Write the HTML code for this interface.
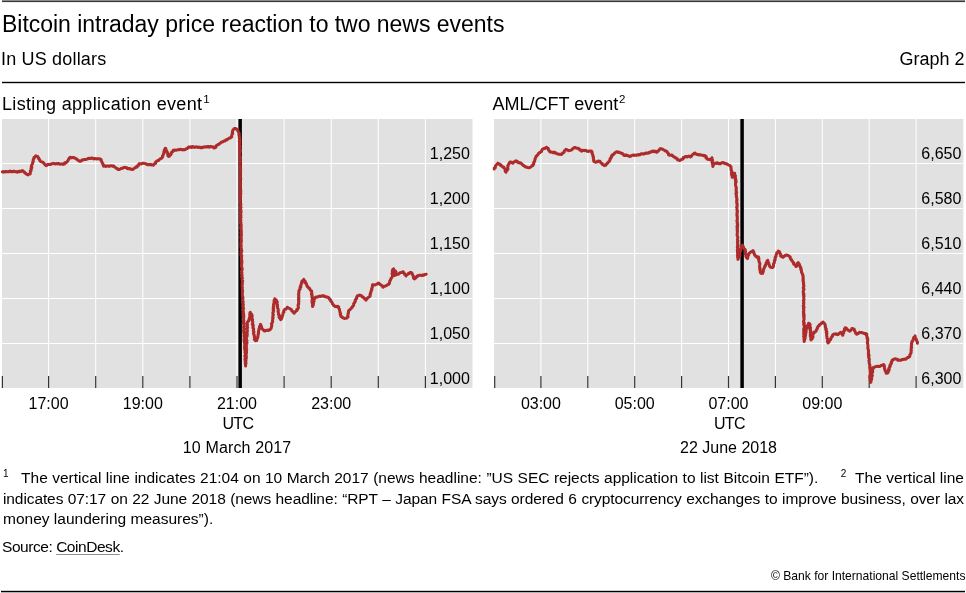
<!DOCTYPE html>
<html><head><meta charset="utf-8"><style>
html,body{margin:0;padding:0;background:#fff;}
body{width:966px;height:593px;position:relative;overflow:hidden;font-family:"Liberation Sans",Arial,sans-serif;color:#000;}
svg{position:absolute;left:0;top:0;will-change:transform;}
.fn,.src,.cp{will-change:transform;}
svg text{font-family:"Liberation Sans",Arial,sans-serif;fill:#000;}
.fn{position:absolute;left:2.5px;width:961px;font-size:15.5px;line-height:20.7px;white-space:nowrap;text-align:justify;text-align-last:justify;}
.fn sup{font-size:10px;vertical-align:0;position:relative;top:-6px;}
.src{position:absolute;left:2px;font-size:15.5px;line-height:20px;white-space:nowrap;}
.src u{text-decoration-color:#8a958a;text-underline-offset:2px;}
.cp{position:absolute;right:1px;font-size:12.1px;line-height:14px;white-space:nowrap;}
</style></head><body>
<svg width="966" height="593" viewBox="0 0 966 593">
<rect x="2" y="0" width="963" height="1" fill="#8a8a8a"/><rect x="2" y="1" width="963" height="1.1" fill="#3a3a3a"/>
<text x="2.00" y="32.30" font-size="23" textLength="502.4" lengthAdjust="spacing">Bitcoin intraday price reaction to two news events</text>
<text x="1.00" y="64.80" font-size="18" textLength="105.2" lengthAdjust="spacing">In US dollars</text>
<text x="964.50" y="64.80" font-size="18" text-anchor="end">Graph 2</text>
<text x="2.00" y="109.80" font-size="18" textLength="200" lengthAdjust="spacing">Listing application event</text>
<text x="492.50" y="109.80" font-size="18">AML/CFT event</text>
<text x="203.20" y="102.50" font-size="11.5">1</text>
<text x="619.00" y="102.50" font-size="11.5">2</text>
<rect x="2" y="81.8" width="963" height="1.4" fill="#000"/>
<rect x="2.0" y="119" width="470.5" height="269" fill="#e1e1e1"/>
<line x1="48.60" y1="119" x2="48.60" y2="388" stroke="#fff" stroke-width="1.05"/>
<line x1="95.70" y1="119" x2="95.70" y2="388" stroke="#fff" stroke-width="1.05"/>
<line x1="142.80" y1="119" x2="142.80" y2="388" stroke="#fff" stroke-width="1.05"/>
<line x1="189.90" y1="119" x2="189.90" y2="388" stroke="#fff" stroke-width="1.05"/>
<line x1="237.00" y1="119" x2="237.00" y2="388" stroke="#fff" stroke-width="1.05"/>
<line x1="284.10" y1="119" x2="284.10" y2="388" stroke="#fff" stroke-width="1.05"/>
<line x1="331.20" y1="119" x2="331.20" y2="388" stroke="#fff" stroke-width="1.05"/>
<line x1="378.30" y1="119" x2="378.30" y2="388" stroke="#fff" stroke-width="1.05"/>
<line x1="425.40" y1="119" x2="425.40" y2="388" stroke="#fff" stroke-width="1.05"/>
<line x1="1.5" y1="163.5" x2="472.5" y2="163.5" stroke="#fff" stroke-width="1.05"/>
<line x1="1.5" y1="208.5" x2="472.5" y2="208.5" stroke="#fff" stroke-width="1.05"/>
<line x1="1.5" y1="253.5" x2="472.5" y2="253.5" stroke="#fff" stroke-width="1.05"/>
<line x1="1.5" y1="298.5" x2="472.5" y2="298.5" stroke="#fff" stroke-width="1.05"/>
<line x1="1.5" y1="343.5" x2="472.5" y2="343.5" stroke="#fff" stroke-width="1.05"/>
<line x1="2.40" y1="376" x2="2.40" y2="388" stroke="#333" stroke-width="1.2"/>
<line x1="48.60" y1="376" x2="48.60" y2="388" stroke="#333" stroke-width="1.2"/>
<line x1="95.70" y1="376" x2="95.70" y2="388" stroke="#333" stroke-width="1.2"/>
<line x1="142.80" y1="376" x2="142.80" y2="388" stroke="#333" stroke-width="1.2"/>
<line x1="189.90" y1="376" x2="189.90" y2="388" stroke="#333" stroke-width="1.2"/>
<line x1="237.00" y1="376" x2="237.00" y2="388" stroke="#333" stroke-width="1.2"/>
<line x1="284.10" y1="376" x2="284.10" y2="388" stroke="#333" stroke-width="1.2"/>
<line x1="331.20" y1="376" x2="331.20" y2="388" stroke="#333" stroke-width="1.2"/>
<line x1="378.30" y1="376" x2="378.30" y2="388" stroke="#333" stroke-width="1.2"/>
<line x1="425.40" y1="376" x2="425.40" y2="388" stroke="#333" stroke-width="1.2"/>
<text x="469.90" y="158.80" font-size="16" text-anchor="end">1,250</text>
<text x="469.90" y="203.80" font-size="16" text-anchor="end">1,200</text>
<text x="469.90" y="248.80" font-size="16" text-anchor="end">1,150</text>
<text x="469.90" y="293.80" font-size="16" text-anchor="end">1,100</text>
<text x="469.90" y="338.80" font-size="16" text-anchor="end">1,050</text>
<text x="469.90" y="383.80" font-size="16" text-anchor="end">1,000</text>
<line x1="240.15" y1="119" x2="240.15" y2="388" stroke="#000" stroke-width="3.5"/>
<polyline points="2.5,171.9 3.2,171.5 4.0,172.1 4.7,172.0 5.4,171.5 6.1,171.7 6.8,171.6 7.6,171.8 8.3,171.6 9.0,171.8 9.7,171.2 10.4,171.1 11.2,171.8 11.9,171.5 12.6,171.8 13.3,171.5 14.0,171.1 14.7,171.6 15.4,171.8 16.2,171.5 16.8,172.1 17.5,172.2 18.3,171.4 19.0,171.9 19.5,171.2 20.4,171.4 21.2,171.5 21.7,170.8 22.4,170.6 23.2,171.0 23.7,171.8 24.5,172.2 24.8,173.1 25.7,173.3 26.3,174.0 27.0,174.4 27.7,174.9 28.5,174.4 29.3,174.1 30.2,174.0 30.1,173.2 30.4,172.6 30.4,171.8 30.3,171.1 31.2,170.5 31.0,169.8 31.2,169.1 31.0,168.3 31.8,167.7 31.8,167.0 31.3,166.2 31.6,165.5 31.9,164.8 32.3,164.1 32.5,163.4 32.9,162.7 32.7,161.8 33.2,161.2 33.3,160.4 33.2,159.6 33.7,158.9 34.1,158.2 34.0,157.4 34.9,157.1 35.3,156.3 36.0,155.7 36.6,156.3 37.7,156.5 38.1,157.4 38.7,157.9 38.6,158.8 39.2,159.2 39.8,159.7 39.8,160.5 40.2,161.1 40.9,161.6 41.6,161.9 42.4,162.0 43.1,162.4 43.6,162.9 44.1,163.5 44.4,164.2 45.0,164.6 45.6,165.1 46.0,165.7 46.7,165.4 47.3,164.7 48.0,164.4 48.9,164.4 49.8,164.4 50.6,164.5 51.4,164.0 52.2,163.7 53.0,163.6 53.7,163.3 54.4,163.6 55.1,164.0 55.9,163.8 56.6,163.6 57.3,163.9 58.0,163.6 58.7,163.5 59.4,163.8 60.0,164.3 60.8,164.1 61.5,164.1 62.2,164.1 62.9,164.4 63.6,164.0 64.5,164.0 64.7,162.8 65.7,163.0 66.3,162.4 66.9,162.0 67.4,161.5 67.7,160.8 68.2,160.3 68.4,159.5 68.8,159.0 69.1,158.3 69.6,157.8 70.3,157.3 71.3,157.9 72.0,157.4 72.8,157.7 73.8,157.5 74.5,158.0 75.4,158.2 76.1,158.8 76.9,159.2 77.5,159.9 78.2,160.2 78.7,160.7 79.3,161.1 80.0,161.4 80.7,161.2 81.3,160.8 81.8,160.1 82.5,160.0 83.3,159.9 83.9,159.4 84.8,159.5 85.6,159.6 86.3,159.3 87.0,159.1 87.7,158.9 88.3,158.2 89.1,158.2 89.8,158.6 90.6,158.5 91.3,158.1 92.1,158.1 92.8,158.2 93.5,158.9 94.3,158.5 95.0,158.5 95.7,158.9 96.4,159.1 97.1,158.8 97.9,158.6 98.6,158.8 99.3,159.1 100.0,158.9 100.7,159.2 101.2,159.8 101.1,160.6 101.5,161.2 101.9,161.8 102.1,162.5 102.3,163.2 103.0,163.7 103.0,164.6 103.3,165.3 103.6,166.1 104.3,165.8 105.1,165.7 105.8,166.5 106.6,166.1 107.3,165.8 108.1,166.1 108.8,166.2 109.5,166.4 110.3,165.7 111.0,165.7 111.7,165.8 112.5,166.3 113.2,165.8 113.9,166.1 114.4,166.8 115.0,167.3 115.7,167.7 116.4,168.2 117.3,168.4 117.9,169.4 118.9,169.4 119.7,169.4 120.4,168.9 121.0,168.4 121.8,168.5 122.5,168.0 123.3,167.9 123.9,167.4 124.7,167.3 125.3,167.6 126.2,167.4 126.8,167.8 127.3,168.6 128.0,168.7 128.8,168.6 129.7,168.6 130.4,169.3 131.3,169.0 132.1,169.4 133.0,169.4 133.6,168.9 134.2,168.3 134.8,167.8 135.4,167.3 136.3,167.3 137.0,167.0 136.9,166.0 137.9,165.9 138.5,165.5 138.7,164.7 138.9,163.9 139.6,163.6 140.5,163.8 141.3,163.9 142.1,163.5 142.9,163.3 143.7,163.2 144.4,163.4 145.1,163.6 145.9,163.8 146.4,164.4 147.2,164.5 147.9,164.8 148.9,164.5 150.0,164.8 150.9,164.5 151.6,165.1 152.5,164.9 153.3,165.2 153.8,164.6 154.2,163.9 155.1,163.7 155.7,163.1 155.6,162.0 156.3,161.6 156.9,161.1 157.5,160.6 158.4,160.6 159.0,160.0 159.5,159.3 160.1,158.8 161.0,158.7 161.6,158.2 162.2,157.6 162.6,156.9 162.4,156.0 163.1,155.5 163.3,154.7 163.4,153.9 163.7,153.2 164.3,152.6 163.9,151.7 164.6,151.1 164.3,150.2 164.6,149.5 165.4,149.0 165.3,148.2 165.9,148.7 165.8,149.6 166.2,150.2 166.4,151.0 167.0,151.5 167.3,152.2 167.6,152.9 167.9,153.6 167.6,154.5 168.1,155.1 168.0,155.9 168.6,156.5 169.5,156.2 169.8,155.1 170.7,154.8 171.1,154.2 171.1,153.3 171.4,152.7 171.8,152.0 172.8,151.7 173.1,151.1 173.2,150.3 174.0,150.5 174.8,150.0 175.7,150.2 176.5,150.2 177.3,149.9 178.0,149.7 178.7,149.8 179.4,149.5 180.1,149.3 180.8,149.4 181.5,149.5 182.3,149.9 183.1,149.6 184.0,149.9 184.8,149.5 185.6,149.5 186.1,148.8 187.0,148.6 187.7,148.2 188.1,147.4 188.8,146.9 189.5,147.4 190.2,146.9 190.9,146.8 191.7,147.5 192.4,146.6 193.1,147.0 193.8,146.8 194.5,147.5 195.3,147.1 196.1,146.8 196.8,146.9 197.5,147.0 198.2,147.5 199.0,147.0 199.7,147.4 200.5,147.7 201.2,147.2 201.9,147.7 202.7,147.6 203.4,147.0 204.1,146.9 204.8,147.1 205.5,146.7 206.3,147.0 207.0,147.1 207.7,146.5 208.4,146.4 209.2,147.2 209.9,146.5 210.6,146.7 211.3,146.6 212.0,146.8 212.7,146.9 213.4,147.0 213.8,147.9 214.6,147.8 215.4,147.5 216.0,147.0 216.0,145.9 216.6,145.4 217.4,145.1 217.9,144.5 218.8,144.5 219.3,143.7 220.0,143.4 220.7,143.0 221.2,142.2 222.0,142.0 222.8,141.8 223.4,141.3 224.2,141.0 225.0,140.9 225.5,140.1 226.2,139.8 227.2,139.9 227.6,139.1 228.4,138.8 229.0,138.2 229.7,138.0 230.5,137.9 231.0,137.1 231.7,136.9 231.7,136.1 231.8,135.4 231.9,134.6 232.5,133.9 232.7,133.2 232.3,132.3 232.4,131.6 232.7,130.9 232.8,130.1 233.4,129.6 233.9,129.0 234.4,128.4 235.3,128.5 236.2,128.7 236.8,129.4 237.4,130.0 238.0,130.5 238.0,131.4 238.5,132.1 239.0,132.7 239.2,133.4 238.8,134.2 239.3,134.8 239.0,135.6 239.4,136.2 239.5,136.9 239.2,137.7 239.9,138.4 239.6,139.1 239.4,139.9 240.0,140.6 239.3,141.4 240.0,142.1 239.5,142.9 239.8,143.6 239.4,144.3 239.5,145.0 240.0,145.7 240.2,146.4 239.9,147.1 239.5,147.8 240.1,148.5 239.6,149.2 240.3,149.9 239.6,150.7 240.4,151.3 240.2,152.0 239.7,152.8 239.8,153.5 239.7,154.2 239.8,154.9 239.9,155.6 239.9,156.3 240.4,157.0 240.2,157.7 240.5,158.4 240.0,159.1 240.2,159.8 240.1,160.5 240.4,161.2 240.6,161.9 239.8,162.6 239.9,163.3 240.2,164.0 240.2,164.7 239.9,165.4 240.3,166.1 240.3,166.8 240.4,167.5 240.5,168.2 240.7,168.9 240.1,169.6 240.4,170.3 240.2,171.0 240.7,171.7 240.4,172.4 240.6,173.1 240.6,173.8 240.5,174.5 240.0,175.2 240.4,175.9 240.4,176.6 240.2,177.3 240.6,178.0 240.8,178.7 240.3,179.4 240.4,180.1 240.2,180.8 240.4,181.5 240.2,182.2 240.2,182.9 240.6,183.6 240.4,184.3 240.4,185.0 240.6,185.7 240.5,186.4 240.4,187.1 240.0,187.8 240.0,188.5 240.6,189.2 240.3,189.9 240.8,190.6 240.8,191.3 240.4,192.0 240.1,192.7 240.8,193.4 240.2,194.1 240.1,194.8 240.6,195.5 240.3,196.2 240.2,196.9 240.6,197.6 240.3,198.3 240.3,199.0 240.5,199.7 240.4,200.4 240.2,201.1 240.2,201.8 240.1,202.5 240.5,203.2 240.9,203.9 240.8,204.6 240.8,205.3 240.5,206.0 240.4,206.7 241.0,207.4 240.5,208.1 240.5,208.8 240.8,209.5 240.7,210.2 241.0,210.9 240.5,211.6 241.1,212.3 240.3,213.0 240.5,213.7 240.6,214.4 241.0,215.1 240.4,215.8 240.4,216.5 241.1,217.2 240.6,217.9 240.5,218.6 240.7,219.3 240.7,220.0 240.9,220.7 240.5,221.4 240.4,222.1 241.0,222.8 240.6,223.5 241.0,224.2 241.2,224.9 241.1,225.6 241.3,226.3 240.6,227.1 240.6,227.8 241.3,228.4 240.9,229.2 241.1,229.8 241.4,230.5 241.2,231.2 241.3,231.9 240.8,232.7 241.5,233.3 241.3,234.1 241.1,234.8 241.5,235.5 241.0,236.2 241.0,236.9 240.8,237.6 241.4,238.3 241.3,239.0 241.1,239.7 241.4,240.4 241.1,241.1 241.4,241.8 241.0,242.5 241.0,243.2 241.0,243.9 240.8,244.6 241.2,245.3 241.3,246.0 241.0,246.7 241.0,247.4 241.2,248.1 241.4,248.8 241.5,249.5 241.7,250.2 241.1,250.9 241.7,251.6 241.1,252.3 241.3,253.0 241.0,253.7 241.2,254.4 241.0,255.1 241.8,255.8 241.4,256.5 241.4,257.2 241.6,257.9 241.5,258.6 241.6,259.3 241.5,260.0 241.5,260.7 242.0,261.4 241.6,262.1 241.6,262.8 241.8,263.5 241.7,264.2 241.4,264.9 241.5,265.6 241.7,266.3 241.6,267.1 241.9,267.8 242.0,268.5 242.3,269.2 242.0,269.9 241.8,270.6 241.5,271.3 241.6,272.0 241.9,272.7 241.5,273.4 242.0,274.1 241.7,274.8 242.1,275.5 241.8,276.2 241.6,276.9 242.3,277.6 242.4,278.3 242.0,279.1 242.1,279.8 242.3,280.5 242.7,281.1 242.3,281.9 242.3,282.6 242.4,283.3 242.0,284.0 242.3,284.7 242.1,285.4 242.0,286.1 242.2,286.8 242.4,287.5 242.2,288.2 242.3,288.9 242.4,289.6 242.4,290.3 242.6,291.0 242.4,291.7 242.5,292.5 242.2,293.2 242.4,293.9 242.3,294.6 242.4,295.3 242.4,296.0 242.6,296.7 242.9,297.4 243.0,298.1 242.8,298.8 242.6,299.5 242.5,300.2 242.8,300.9 243.2,301.6 242.6,302.3 243.0,303.0 243.0,303.7 243.4,304.4 243.0,305.1 242.9,305.9 243.2,306.6 243.3,307.3 243.0,308.0 243.6,308.7 243.2,309.4 242.8,310.1 243.1,310.8 243.4,311.5 243.1,312.2 243.3,312.9 243.6,313.6 243.7,314.3 243.1,315.0 243.7,315.7 243.9,316.4 243.2,317.2 243.5,317.8 243.7,318.5 243.6,319.3 243.4,320.0 243.9,320.7 243.5,321.4 243.5,322.1 243.4,322.8 244.0,323.5 243.7,324.2 244.1,324.9 243.8,325.6 244.2,326.3 243.6,327.0 243.6,327.7 244.1,328.4 244.2,329.1 243.6,329.9 243.8,330.6 243.7,331.3 244.5,331.9 243.7,332.7 244.0,333.4 244.3,334.1 244.3,334.8 244.0,335.5 244.0,336.2 244.6,336.9 244.3,337.6 244.2,338.3 244.7,339.0 244.0,339.7 244.5,340.4 244.1,341.2 244.3,341.9 244.4,342.6 244.8,343.3 244.6,344.0 244.9,344.7 245.0,345.4 244.5,346.1 244.8,346.8 244.5,347.6 245.0,348.2 244.6,349.0 244.7,349.7 245.1,350.4 245.3,351.1 245.0,351.8 245.0,352.5 245.4,353.2 245.3,353.9 245.5,354.6 245.0,355.4 244.8,356.1 245.4,356.8 245.6,357.5 245.1,358.2 245.0,358.9 244.9,359.6 245.2,360.3 245.5,361.0 245.1,361.8 245.8,362.4 245.3,363.2 245.9,363.9 245.6,364.6 245.6,365.3 245.6,366.0 245.5,365.3 245.4,364.6 245.5,363.9 246.0,363.2 245.7,362.5 245.9,361.8 245.6,361.1 246.0,360.4 245.7,359.7 246.0,359.0 246.3,358.3 246.4,357.6 245.6,356.9 246.3,356.2 246.4,355.5 245.9,354.8 246.0,354.1 246.2,353.4 246.6,352.7 246.1,352.0 246.6,351.3 246.5,350.6 246.0,349.8 246.7,349.2 245.9,348.4 246.1,347.7 246.6,347.0 246.1,346.3 246.4,345.6 246.2,344.9 246.5,344.2 246.9,343.5 247.0,342.8 246.2,342.1 246.3,341.4 247.0,340.7 246.3,340.0 246.6,339.3 246.4,338.6 246.4,337.9 246.4,337.2 247.0,336.5 247.1,335.8 247.1,335.1 247.3,334.4 247.0,333.7 247.2,333.0 247.0,332.2 247.2,331.5 247.5,330.8 247.3,330.0 247.0,329.3 246.8,328.6 247.6,327.9 247.4,327.1 247.2,326.4 247.4,325.7 247.4,324.9 247.4,324.2 247.0,323.4 247.3,322.7 247.5,322.0 248.1,321.4 248.8,321.0 248.7,320.2 249.4,319.6 249.1,318.8 249.4,318.1 249.6,317.4 249.8,316.7 249.9,316.0 250.0,315.2 249.7,314.4 250.5,313.8 249.9,313.0 250.3,312.3 250.4,313.1 250.9,313.7 251.6,314.1 251.4,314.9 252.2,315.5 252.2,316.2 251.6,317.0 252.0,317.7 252.2,318.4 251.7,319.2 252.6,319.8 252.3,320.6 252.4,321.3 252.8,322.0 252.6,322.8 252.4,323.5 252.3,324.2 253.2,324.9 252.8,325.7 253.3,326.3 253.0,327.1 252.8,327.9 253.6,328.5 253.7,329.2 253.5,330.0 253.3,330.7 253.8,331.4 254.0,332.1 253.5,332.9 253.6,333.6 253.7,334.4 254.3,335.0 254.3,335.8 254.5,336.5 254.3,337.2 254.7,337.9 254.7,338.6 254.4,339.4 254.8,340.1 255.6,340.7 256.7,340.6 256.9,339.9 256.6,339.2 257.3,338.6 257.2,337.9 257.9,337.3 257.8,336.5 258.0,335.9 258.0,335.2 258.0,334.4 258.5,333.8 258.6,333.1 258.3,332.3 258.6,331.7 258.5,330.9 258.8,330.2 259.2,329.5 259.0,328.7 259.4,328.0 259.7,327.3 259.5,326.4 260.3,325.8 260.4,325.1 260.4,324.3 260.8,324.9 261.1,325.6 261.3,326.3 261.6,326.9 261.5,327.7 262.0,328.3 262.3,329.0 262.9,329.6 263.7,330.0 264.1,330.8 264.9,331.1 265.6,330.5 266.3,330.4 267.0,330.1 267.8,330.4 268.7,330.4 269.2,329.7 270.1,329.7 270.6,329.0 271.1,328.4 271.3,327.7 271.4,327.0 271.6,326.3 271.8,325.6 271.8,324.9 271.4,324.0 271.9,323.4 272.1,322.7 272.6,322.1 272.6,321.4 272.5,320.6 272.7,319.9 272.8,319.2 272.6,318.4 273.1,317.7 272.9,317.0 272.8,316.2 272.9,315.5 273.4,314.8 273.1,314.1 272.8,313.3 272.9,312.6 273.4,311.9 273.3,311.2 273.7,310.5 273.1,309.7 273.4,309.0 273.7,308.3 273.2,307.5 273.3,306.8 273.8,306.1 273.6,305.3 273.5,304.6 273.9,303.9 273.8,303.1 274.3,302.5 274.3,301.7 274.0,300.9 274.2,300.2 275.0,299.6 274.8,298.8 275.3,299.5 276.2,299.9 276.6,300.7 276.4,301.5 277.3,302.1 277.1,302.8 276.8,303.6 277.1,304.3 277.6,305.0 277.1,305.8 277.5,306.5 277.4,307.2 277.5,307.9 278.0,308.6 278.2,309.3 278.1,310.0 278.3,310.7 278.0,311.5 278.3,312.2 278.4,312.9 278.5,313.6 278.4,314.3 279.2,314.9 279.3,315.6 279.0,316.4 279.1,317.1 279.4,317.8 279.9,318.4 280.3,319.1 280.8,319.7 281.0,319.0 281.7,318.5 281.9,317.8 282.0,317.0 281.8,316.2 282.7,315.8 282.7,315.0 282.9,314.3 283.0,313.5 283.3,312.8 283.9,312.2 283.6,311.3 283.9,310.6 284.5,310.0 284.9,309.3 285.9,309.1 286.3,308.5 287.0,308.1 287.3,307.2 287.9,307.6 288.6,308.0 289.2,308.3 289.9,308.7 290.5,309.1 291.2,309.4 291.5,310.2 291.8,310.9 292.7,311.3 293.0,312.1 293.8,312.5 294.1,313.3 294.4,312.6 295.1,312.1 295.6,311.5 296.1,310.9 296.9,310.6 296.8,309.5 297.6,309.2 298.0,308.5 298.5,307.8 298.3,307.1 298.2,306.4 298.1,305.6 298.1,304.9 298.7,304.2 298.7,303.5 298.5,302.8 298.7,302.1 298.8,301.3 298.8,300.6 298.4,299.9 298.5,299.2 298.9,298.5 298.5,297.7 298.9,297.0 298.7,296.3 298.6,295.6 298.8,294.9 298.5,294.1 298.8,293.4 298.9,292.7 299.0,292.0 298.8,291.2 299.1,290.5 299.4,289.8 300.1,289.2 300.0,288.5 300.0,287.7 300.8,287.1 300.3,286.2 300.8,285.6 301.1,284.9 301.3,284.2 301.3,283.4 301.8,282.8 301.7,282.0 301.9,281.3 302.7,280.8 303.2,280.0 303.8,279.4 303.7,280.2 304.3,280.8 305.1,281.2 305.4,281.8 305.0,282.8 306.0,283.2 306.4,283.7 306.6,284.5 306.7,285.2 307.1,285.7 307.2,286.6 308.1,286.8 308.3,287.6 308.6,288.2 309.6,288.3 309.7,289.1 310.3,289.8 310.7,290.7 311.6,291.0 311.6,291.7 311.7,292.4 311.9,293.1 311.4,293.8 311.4,294.5 312.2,295.2 311.9,295.9 312.0,296.6 311.9,297.4 312.4,298.0 312.3,298.7 312.3,299.4 312.2,300.2 312.0,300.9 312.0,301.6 312.1,302.3 312.2,303.0 312.8,303.7 312.6,304.4 312.4,305.1 312.7,305.8 312.6,306.5 312.8,305.8 313.3,305.1 312.7,304.3 313.5,303.7 313.0,302.8 313.5,302.1 314.1,301.5 313.6,300.6 314.0,300.0 314.1,299.2 314.7,298.6 314.5,297.8 315.4,298.0 316.0,297.1 316.8,297.0 317.7,297.1 318.4,296.5 319.1,296.5 319.8,296.1 320.6,296.5 321.3,296.1 322.0,296.1 322.7,295.6 323.5,296.4 324.2,295.9 324.8,296.3 325.4,296.8 326.1,297.1 327.0,296.8 327.6,297.3 328.3,297.5 329.0,297.8 329.2,298.6 329.5,299.3 330.3,299.6 330.7,300.3 330.7,301.2 331.3,301.7 331.9,302.2 332.3,302.9 332.4,303.7 332.9,304.3 333.5,304.9 333.8,305.7 334.7,306.0 335.3,306.6 336.1,306.7 336.8,306.3 337.6,306.5 338.3,306.6 338.7,307.2 338.6,308.0 339.1,308.6 339.4,309.2 339.5,309.9 339.6,310.6 339.9,311.3 340.0,312.0 340.1,312.8 340.6,313.4 340.2,314.3 340.5,315.0 340.8,315.8 341.0,316.5 342.0,316.8 342.5,317.8 343.4,317.8 344.1,318.4 345.0,318.4 345.9,318.2 346.8,318.0 347.6,317.4 348.1,316.7 347.7,315.9 348.0,315.2 348.1,314.4 348.0,313.7 348.5,313.0 348.4,312.2 348.6,311.5 348.7,310.8 349.2,310.2 349.8,309.7 350.4,309.3 350.8,308.7 351.4,308.3 351.7,307.5 352.4,307.2 352.5,306.4 353.1,305.9 353.7,305.3 353.7,304.5 353.7,303.6 354.1,303.0 354.8,302.5 354.9,301.7 355.4,301.1 355.2,300.2 355.6,299.5 356.3,298.9 356.8,298.3 356.5,297.4 357.0,296.8 357.2,296.0 357.9,295.9 358.5,295.3 359.3,295.5 359.9,295.2 360.7,295.4 361.4,295.7 361.7,296.5 362.3,297.0 363.3,297.0 363.6,297.8 364.5,298.1 364.7,299.1 365.6,299.3 366.0,300.1 366.4,299.5 366.9,299.0 367.3,298.3 367.8,297.8 368.3,297.4 369.0,297.0 369.6,296.6 370.2,296.0 370.1,295.2 370.0,294.3 370.6,293.7 370.5,292.9 370.9,292.2 370.9,291.4 371.3,290.7 371.8,290.0 371.5,289.2 372.0,288.5 372.0,287.8 372.4,287.1 372.3,286.3 372.7,285.6 372.5,284.8 373.2,284.7 374.0,285.0 374.8,284.9 375.5,284.8 376.2,284.4 377.0,283.9 377.7,283.5 378.4,283.0 379.1,283.4 379.4,284.2 380.1,284.4 380.8,284.8 381.3,285.4 382.2,285.7 382.5,286.6 383.1,287.2 383.7,286.6 384.4,286.3 385.2,286.1 386.0,285.8 386.7,285.4 387.4,284.8 388.1,284.4 389.0,284.2 389.3,283.5 389.5,282.7 389.7,281.9 389.7,281.1 390.2,280.4 390.7,279.7 390.8,278.9 391.3,278.2 391.8,277.5 392.2,276.8 392.6,276.1 392.5,275.4 392.5,274.6 392.0,273.8 392.3,273.1 392.7,272.4 392.3,271.7 393.1,271.0 392.4,270.2 392.8,269.5 393.6,268.8 393.6,269.8 394.3,270.5 394.6,271.2 394.1,272.0 394.2,272.7 394.7,273.3 394.3,274.1 395.0,274.8 394.8,275.5 395.2,274.8 394.9,274.0 395.1,273.2 394.9,272.4 395.5,271.8 395.5,271.0 395.9,271.7 395.7,272.6 395.7,273.3 396.0,274.1 396.3,274.8 396.8,274.0 397.9,274.4 398.5,274.1 399.1,273.5 399.7,273.0 400.4,272.7 401.1,272.6 401.9,272.6 402.5,272.0 403.2,271.8 403.4,272.5 404.0,273.0 404.5,273.5 404.5,274.4 405.3,274.7 405.6,275.4 406.1,275.9 406.4,275.0 407.3,274.7 407.9,274.2 408.4,273.4 409.5,273.5 409.9,272.5 410.9,272.4 411.7,272.8 412.0,273.4 412.4,274.0 412.6,274.8 412.9,275.5 413.3,276.1 413.7,276.8 413.4,277.7 413.8,278.4 414.4,278.9 415.0,278.5 415.6,278.1 416.1,277.6 416.2,276.7 417.1,276.6 417.4,275.9 418.1,275.5 418.8,275.7 419.5,275.4 420.1,275.1 420.9,275.3 421.7,275.4 422.4,275.5 423.0,274.8 423.8,275.2 424.5,274.8 425.3,274.4 426.2,274.2" fill="none" stroke="#ae2b2b" stroke-width="3.0" stroke-linejoin="round" stroke-linecap="round"/>
<text x="48.60" y="408.70" font-size="16" text-anchor="middle">17:00</text>
<text x="142.80" y="408.70" font-size="16" text-anchor="middle">19:00</text>
<text x="237.00" y="408.70" font-size="16" text-anchor="middle">21:00</text>
<text x="331.20" y="408.70" font-size="16" text-anchor="middle">23:00</text>
<text x="238.20" y="428.70" font-size="16" text-anchor="middle" textLength="31.6" lengthAdjust="spacing">UTC</text>
<text x="237.00" y="452.60" font-size="16" text-anchor="middle" textLength="108.5" lengthAdjust="spacing">10 March 2017</text>
<rect x="494" y="119" width="469.4" height="269" fill="#e1e1e1"/>
<line x1="540.90" y1="119" x2="540.90" y2="388" stroke="#fff" stroke-width="1.05"/>
<line x1="587.80" y1="119" x2="587.80" y2="388" stroke="#fff" stroke-width="1.05"/>
<line x1="634.70" y1="119" x2="634.70" y2="388" stroke="#fff" stroke-width="1.05"/>
<line x1="681.60" y1="119" x2="681.60" y2="388" stroke="#fff" stroke-width="1.05"/>
<line x1="728.50" y1="119" x2="728.50" y2="388" stroke="#fff" stroke-width="1.05"/>
<line x1="775.40" y1="119" x2="775.40" y2="388" stroke="#fff" stroke-width="1.05"/>
<line x1="822.30" y1="119" x2="822.30" y2="388" stroke="#fff" stroke-width="1.05"/>
<line x1="869.20" y1="119" x2="869.20" y2="388" stroke="#fff" stroke-width="1.05"/>
<line x1="916.10" y1="119" x2="916.10" y2="388" stroke="#fff" stroke-width="1.05"/>
<line x1="494" y1="163.5" x2="963" y2="163.5" stroke="#fff" stroke-width="1.05"/>
<line x1="494" y1="208.5" x2="963" y2="208.5" stroke="#fff" stroke-width="1.05"/>
<line x1="494" y1="253.5" x2="963" y2="253.5" stroke="#fff" stroke-width="1.05"/>
<line x1="494" y1="298.5" x2="963" y2="298.5" stroke="#fff" stroke-width="1.05"/>
<line x1="494" y1="343.5" x2="963" y2="343.5" stroke="#fff" stroke-width="1.05"/>
<line x1="494.70" y1="376" x2="494.70" y2="388" stroke="#333" stroke-width="1.2"/>
<line x1="540.90" y1="376" x2="540.90" y2="388" stroke="#333" stroke-width="1.2"/>
<line x1="587.80" y1="376" x2="587.80" y2="388" stroke="#333" stroke-width="1.2"/>
<line x1="634.70" y1="376" x2="634.70" y2="388" stroke="#333" stroke-width="1.2"/>
<line x1="681.60" y1="376" x2="681.60" y2="388" stroke="#333" stroke-width="1.2"/>
<line x1="728.50" y1="376" x2="728.50" y2="388" stroke="#333" stroke-width="1.2"/>
<line x1="775.40" y1="376" x2="775.40" y2="388" stroke="#333" stroke-width="1.2"/>
<line x1="822.30" y1="376" x2="822.30" y2="388" stroke="#333" stroke-width="1.2"/>
<line x1="869.20" y1="376" x2="869.20" y2="388" stroke="#333" stroke-width="1.2"/>
<line x1="916.10" y1="376" x2="916.10" y2="388" stroke="#333" stroke-width="1.2"/>
<text x="961.40" y="158.80" font-size="16" text-anchor="end">6,650</text>
<text x="961.40" y="203.80" font-size="16" text-anchor="end">6,580</text>
<text x="961.40" y="248.80" font-size="16" text-anchor="end">6,510</text>
<text x="961.40" y="293.80" font-size="16" text-anchor="end">6,440</text>
<text x="961.40" y="338.80" font-size="16" text-anchor="end">6,370</text>
<text x="961.40" y="383.80" font-size="16" text-anchor="end">6,300</text>
<line x1="742.1" y1="119" x2="742.1" y2="388" stroke="#000" stroke-width="3.5"/>
<polyline points="494.2,169.1 494.2,168.2 495.2,167.8 495.4,167.0 495.4,166.0 495.9,165.4 496.4,164.8 496.9,164.3 497.6,163.8 498.0,163.2 498.5,164.0 499.6,164.0 500.1,164.9 501.0,165.0 501.2,166.0 502.0,166.1 502.6,166.6 503.0,167.3 504.0,167.3 504.3,168.1 504.8,168.7 504.9,169.4 505.5,170.0 505.1,170.9 505.4,171.5 506.0,172.1 506.1,171.3 506.5,170.7 507.3,170.4 507.5,169.7 508.0,169.0 507.6,168.2 507.7,167.4 508.0,166.7 507.8,165.9 508.1,165.2 508.5,164.5 508.9,163.8 509.3,163.2 509.6,162.5 510.2,162.0 511.0,162.1 511.6,162.4 512.2,162.9 512.8,163.2 513.3,162.6 513.7,161.9 514.7,161.9 515.2,161.2 515.7,160.7 516.4,161.2 517.3,161.3 517.7,162.4 518.7,162.4 519.3,163.0 520.3,162.7 520.9,163.2 521.6,163.7 522.1,164.4 522.7,164.8 523.1,165.5 524.0,165.6 524.6,166.2 525.1,166.8 525.8,167.0 526.6,167.0 527.1,167.5 527.9,167.6 528.8,167.8 529.6,167.5 530.4,167.3 531.0,166.7 531.7,166.3 532.1,165.5 533.0,165.4 533.0,164.6 533.7,164.0 533.7,163.2 533.7,162.4 534.3,161.8 534.6,161.1 534.7,160.3 535.1,159.6 535.1,158.7 535.4,158.0 535.7,157.3 536.0,156.5 536.7,156.2 537.0,155.5 537.4,154.9 538.0,154.5 538.5,154.0 538.7,153.2 539.3,152.7 540.2,152.6 540.6,151.9 541.4,151.6 541.7,150.8 542.0,150.0 542.4,149.3 543.1,148.9 543.8,148.6 544.7,148.6 545.2,148.1 545.8,147.6 546.5,147.2 546.9,147.9 547.8,147.9 548.2,148.5 548.5,149.2 548.5,150.0 549.2,150.6 549.6,151.2 549.9,151.9 550.8,151.8 551.6,152.2 552.4,152.3 553.2,152.8 554.2,152.1 554.9,152.9 555.8,152.7 556.3,153.3 556.9,153.7 557.6,153.9 558.3,154.0 559.1,154.4 560.0,154.2 560.8,154.4 561.7,154.4 562.2,153.8 562.6,153.0 563.4,152.7 564.1,152.3 564.3,151.6 564.4,150.8 565.1,150.4 565.5,149.9 565.9,149.3 566.8,149.7 567.6,150.1 568.3,150.7 569.1,150.5 570.0,150.4 570.8,150.2 571.6,149.9 572.2,149.4 572.7,148.6 573.4,148.2 574.1,147.7 574.9,147.4 575.6,147.7 576.2,148.1 576.9,148.2 577.6,148.4 578.3,148.3 578.7,149.0 579.5,149.1 579.8,149.9 580.4,150.3 581.3,150.3 581.6,151.1 582.3,150.5 583.1,150.3 584.1,150.7 584.9,150.3 585.6,150.4 586.3,150.5 586.8,151.2 587.6,151.2 588.2,151.6 589.0,151.1 589.8,151.0 590.7,151.2 591.5,151.1 592.0,151.8 592.2,152.6 592.0,153.4 592.5,154.1 592.7,154.9 593.0,155.6 592.9,156.3 593.5,157.0 593.3,157.8 593.3,158.5 593.7,159.2 593.8,159.9 593.6,160.7 594.0,161.5 594.9,161.8 595.6,162.3 596.2,161.8 597.0,161.9 597.7,161.8 598.2,160.9 599.0,161.1 599.9,161.3 600.4,161.9 600.7,162.8 601.4,163.2 602.2,163.4 602.4,164.3 603.0,164.8 603.7,165.2 604.3,165.6 604.7,165.0 605.7,165.2 606.2,164.6 606.6,164.0 607.2,163.6 607.5,162.9 608.3,162.5 608.6,161.8 609.3,161.3 609.7,160.7 609.8,160.0 610.3,159.4 610.1,158.6 610.5,158.0 611.3,157.6 611.5,156.9 611.4,156.1 611.8,155.5 612.6,155.3 612.8,154.5 613.7,154.4 613.9,153.6 614.6,153.4 615.1,152.7 615.6,152.2 616.3,152.0 617.2,151.7 618.0,152.5 618.9,151.9 619.7,152.4 620.4,152.9 621.2,153.3 622.1,153.2 622.6,153.9 623.5,154.4 623.8,155.3 624.7,155.5 625.5,155.5 626.3,154.9 626.9,155.4 627.6,155.5 628.3,155.8 629.0,156.1 629.6,156.5 630.2,156.0 631.0,156.2 631.6,155.7 632.1,155.3 632.9,155.3 633.7,154.9 634.5,155.4 635.4,155.1 636.2,155.3 637.0,155.1 637.8,154.7 638.8,155.0 639.5,154.5 640.3,154.7 641.0,153.8 641.7,153.8 642.5,153.7 643.4,154.2 644.1,153.6 644.8,153.7 645.5,153.2 646.2,152.9 646.9,153.2 647.7,153.2 648.3,152.8 649.1,152.9 649.6,152.1 650.5,152.3 651.1,151.8 651.7,151.4 652.4,151.1 653.0,151.7 653.9,151.1 654.5,151.7 655.3,151.2 656.0,151.5 656.6,152.2 657.4,152.0 657.7,151.2 658.6,150.8 659.0,150.1 659.6,149.5 659.9,148.7 660.8,148.8 661.6,149.0 662.4,149.1 663.2,149.5 663.7,150.1 664.5,150.2 665.0,150.8 665.7,151.1 666.5,151.1 667.1,151.6 667.2,152.4 667.9,152.8 668.3,153.4 668.6,154.1 668.6,154.9 669.3,155.2 670.0,155.2 670.8,155.2 671.5,154.9 672.2,155.3 672.8,156.0 673.3,156.6 674.2,156.8 674.8,157.4 675.3,157.9 676.1,158.0 676.8,158.3 677.3,158.9 677.5,159.8 678.3,159.9 678.9,160.3 679.8,160.5 680.6,159.9 681.4,159.8 681.8,159.2 682.7,159.1 683.2,158.6 683.3,157.6 684.2,157.6 684.7,157.0 685.5,156.5 686.3,156.4 687.2,157.0 688.0,156.5 688.8,156.1 689.6,156.3 690.5,156.9 691.3,156.5 691.7,155.9 692.0,155.2 692.5,154.7 693.1,154.1 693.9,153.9 694.2,153.2 695.1,153.1 695.6,154.1 696.5,153.9 697.1,154.6 698.0,154.5 698.7,155.0 699.7,154.6 700.5,154.8 701.3,155.1 702.1,155.3 703.0,155.2 703.7,155.8 704.7,155.5 705.4,156.1 706.2,156.6 705.9,157.8 706.8,158.2 707.1,159.0 707.9,159.3 708.8,159.4 709.6,159.4 710.4,159.8 710.6,158.9 711.8,158.7 712.0,157.8 711.7,158.6 711.7,159.3 712.6,159.9 712.6,160.7 712.3,161.4 712.0,162.2 712.5,162.9 712.4,163.6 712.5,164.3 713.0,165.0 712.8,165.8 712.9,166.5 713.1,165.7 713.5,164.9 713.8,164.1 714.5,163.6 715.3,163.1 716.3,163.4 717.0,162.7 717.7,163.0 718.3,163.5 719.0,163.7 719.7,163.6 720.5,163.7 721.0,163.1 721.7,162.8 722.4,162.6 723.1,162.6 723.8,162.7 724.3,163.4 725.0,163.7 725.8,163.5 726.5,163.8 727.1,164.2 727.9,164.6 728.6,165.0 729.4,165.4 730.2,165.7 730.6,166.4 731.0,167.1 730.9,167.9 731.2,168.6 731.0,169.5 731.2,170.2 731.7,170.9 731.8,171.6 731.4,172.3 731.8,173.0 731.4,173.8 731.8,174.5 731.6,175.2 732.3,175.8 732.1,176.6 732.2,177.3 732.7,176.6 732.2,175.6 733.2,175.0 732.7,174.0 733.2,173.3 734.0,173.5 734.7,173.3 734.4,174.1 734.6,174.7 735.2,175.4 735.5,176.0 735.2,176.8 734.9,177.6 735.6,178.2 735.1,179.0 735.9,179.6 735.7,180.3 735.4,181.0 736.2,181.7 736.0,182.5 735.5,183.2 735.6,183.9 735.5,184.6 735.6,185.4 735.8,186.1 735.9,186.8 736.3,187.5 736.2,188.2 736.4,188.9 736.0,189.7 736.2,190.4 736.1,191.1 736.5,191.8 736.7,192.6 735.9,193.3 736.1,194.1 736.4,194.8 736.4,195.5 736.2,196.2 736.6,197.0 736.7,197.7 736.7,198.4 736.8,199.1 737.1,199.9 736.7,200.6 736.6,201.3 736.8,202.0 736.7,202.8 737.2,203.5 736.9,204.2 737.2,204.9 737.2,205.7 737.1,206.4 736.6,207.1 737.0,207.8 737.0,208.6 736.9,209.3 737.0,210.0 737.3,210.7 737.5,211.4 737.0,212.1 737.1,212.8 736.9,213.5 737.2,214.2 736.9,214.9 736.9,215.6 737.4,216.3 737.2,217.1 737.2,217.8 737.4,218.5 737.3,219.2 737.2,219.9 736.9,220.6 736.9,221.3 737.5,222.0 737.3,222.7 737.2,223.4 737.7,224.1 737.7,224.8 737.3,225.5 737.0,226.2 737.7,226.9 737.1,227.7 737.1,228.4 737.6,229.1 737.2,229.8 737.1,230.5 737.6,231.2 737.3,231.9 737.3,232.6 737.4,233.3 737.2,234.0 737.1,234.7 737.1,235.5 737.5,236.2 737.8,236.9 737.8,237.6 737.8,238.3 737.5,239.0 737.4,239.7 737.6,240.4 738.0,241.1 737.5,241.8 737.4,242.5 737.8,243.2 737.6,243.9 738.0,244.6 737.5,245.3 738.1,246.0 737.3,246.7 737.4,247.4 737.6,248.1 737.9,248.8 737.4,249.5 737.3,250.2 738.1,250.9 737.5,251.6 737.5,252.3 737.7,253.0 737.6,253.7 737.9,254.4 737.5,255.1 737.4,255.8 738.0,256.5 737.6,257.2 737.9,257.9 738.2,258.6 737.9,259.3 738.2,258.5 738.5,257.6 739.2,257.0 739.7,256.4 739.9,255.7 739.3,254.9 739.9,254.3 739.8,253.5 739.7,252.8 740.0,252.1 740.1,251.4 740.7,250.8 740.2,250.0 740.5,249.3 740.9,248.7 741.2,248.0 741.1,247.1 742.0,246.6 742.3,245.9 742.5,245.1 742.5,245.9 743.3,246.4 743.5,247.2 743.6,248.0 743.9,248.7 745.0,249.3 745.3,250.0 745.2,250.7 745.6,251.4 745.3,252.1 745.3,252.8 745.4,253.5 745.4,254.3 745.9,254.9 746.1,255.6 745.9,256.4 746.3,257.0 746.7,257.9 747.5,258.6 747.7,257.9 747.8,257.1 747.9,256.4 747.9,255.6 748.7,255.0 748.3,254.1 748.8,253.5 749.6,253.1 750.2,252.4 750.9,251.8 751.8,251.8 752.4,251.2 753.0,250.6 752.8,251.4 753.8,251.8 753.7,252.6 753.9,253.3 754.4,253.8 754.5,254.5 754.7,255.2 755.3,255.6 755.7,256.3 756.6,256.5 756.8,257.3 757.6,257.0 758.5,256.9 758.6,257.6 758.9,258.3 758.9,259.0 758.6,259.7 758.8,260.4 759.1,261.1 759.1,261.8 759.4,262.5 759.7,263.2 759.9,263.8 759.8,264.6 759.7,265.3 759.7,266.1 759.5,266.9 759.7,267.6 760.1,268.3 759.7,269.2 760.3,269.9 760.0,270.7 760.5,271.4 760.3,272.2 760.6,272.9 761.2,273.5 762.0,273.0 762.7,273.3 762.6,272.5 763.2,271.8 763.4,271.0 763.4,270.2 763.4,269.3 764.0,268.7 764.2,267.9 764.5,267.2 764.7,266.5 765.4,265.9 765.4,265.0 765.8,264.3 766.2,263.7 766.1,262.8 766.7,262.3 766.9,261.5 767.5,261.0 767.7,260.3 767.8,261.1 768.1,261.8 768.3,262.5 768.8,263.1 768.8,263.9 769.0,264.6 769.4,265.3 769.7,266.2 770.3,266.9 771.1,267.4 772.0,267.7 772.8,267.4 773.2,266.8 773.5,266.1 773.5,265.3 773.4,264.6 773.5,263.8 774.1,263.2 774.4,262.6 774.3,261.8 774.5,261.1 774.4,260.3 775.2,259.8 775.1,259.0 775.2,258.3 775.1,257.5 775.7,257.0 776.0,256.3 776.0,255.6 776.1,254.8 776.5,254.2 776.6,253.5 776.7,252.6 777.5,252.3 778.2,251.9 778.3,251.0 778.8,251.5 779.5,251.8 779.8,252.4 779.8,253.2 780.1,253.8 780.7,254.4 781.0,255.1 780.6,255.9 781.2,256.5 782.1,256.7 782.9,257.3 783.3,256.5 784.3,256.5 784.8,255.7 785.4,255.2 786.3,255.1 787.1,255.2 788.0,255.2 788.7,256.0 789.6,256.5 790.2,257.0 790.2,257.9 790.5,258.6 790.8,259.3 791.6,259.7 791.7,260.5 792.2,261.1 792.8,261.6 793.0,262.4 793.7,262.8 793.6,263.8 794.0,264.4 794.7,264.9 795.3,265.4 795.8,265.9 796.0,266.6 796.7,266.1 796.9,265.3 797.3,264.6 797.0,263.6 798.1,263.3 798.1,262.4 798.4,263.2 799.1,263.8 799.4,264.5 799.8,265.3 799.8,266.1 800.0,266.8 800.8,267.4 800.6,268.2 801.2,268.9 800.8,269.8 801.4,270.4 801.6,271.1 801.4,272.0 801.8,272.7 802.1,273.4 802.6,274.1 802.5,274.9 803.0,275.5 803.2,276.3 803.1,277.1 802.9,277.8 803.3,278.5 803.0,279.3 803.4,280.0 803.0,280.7 803.1,281.4 803.5,282.1 803.7,282.8 803.4,283.5 803.4,284.3 803.8,285.0 803.7,285.7 803.9,286.4 803.4,287.1 803.2,287.9 803.8,288.6 804.0,289.3 803.6,290.0 803.4,290.7 803.3,291.4 803.2,292.1 803.5,292.9 803.8,293.6 803.3,294.3 804.0,295.0 803.5,295.7 804.0,296.4 803.7,297.1 803.7,297.9 803.8,298.6 804.0,299.3 803.9,300.0 803.4,300.7 803.7,301.4 803.6,302.1 803.9,302.9 803.5,303.6 803.8,304.3 803.6,305.0 803.3,305.7 803.3,306.4 804.1,307.1 803.5,307.9 803.4,308.6 803.9,309.3 803.8,310.0 803.7,310.7 803.4,311.4 803.8,312.1 803.4,312.9 803.5,313.6 804.1,314.3 803.4,315.0 804.2,315.7 804.1,316.4 803.6,317.1 804.2,317.9 803.9,318.6 804.1,319.3 803.8,320.0 803.8,320.7 803.5,321.4 803.5,322.1 804.3,322.8 804.2,323.6 803.6,324.3 804.3,325.0 804.1,325.7 804.2,326.4 804.3,327.1 804.3,327.8 803.8,328.6 803.7,329.3 803.8,330.0 803.6,330.7 803.8,331.4 804.1,332.1 803.9,332.8 803.6,333.6 803.9,334.3 804.2,335.0 804.4,335.7 803.6,336.4 804.0,337.1 804.2,337.8 804.0,338.5 804.0,339.3 804.1,340.0 804.5,340.7 804.1,341.4 804.2,340.6 804.4,339.9 804.4,339.1 805.2,338.5 805.0,337.6 805.2,336.9 805.4,336.2 805.5,335.5 805.6,334.8 805.7,334.1 805.8,333.4 805.4,332.6 806.1,331.9 805.4,331.2 806.2,330.5 806.2,329.8 806.2,329.1 805.6,328.3 805.7,327.6 806.4,326.9 806.2,326.2 806.9,327.0 807.5,327.8 807.6,327.0 808.3,326.4 807.7,325.4 808.3,324.7 808.5,324.0 808.7,323.2 809.8,324.0 810.2,324.7 810.0,325.4 809.8,326.2 809.7,326.9 810.5,327.6 810.1,328.3 810.5,329.0 809.9,329.8 810.6,330.5 810.7,331.2 810.5,331.9 810.2,332.7 810.6,333.4 810.8,334.1 810.3,334.9 810.3,335.6 810.3,336.3 810.9,337.0 810.8,337.7 811.0,338.4 810.8,339.2 810.9,339.9 811.4,339.4 812.1,339.1 812.1,338.3 812.7,337.6 813.0,336.9 812.8,336.1 812.6,335.2 813.2,334.6 813.2,333.8 813.9,333.2 813.6,332.3 814.6,332.1 815.5,331.6 816.1,331.1 816.3,330.4 816.5,329.6 817.1,329.1 817.4,328.4 817.3,327.6 817.8,327.0 818.1,326.3 818.7,325.9 819.3,325.5 819.5,324.7 820.2,324.4 820.8,324.0 821.4,323.6 821.7,322.7 822.7,322.8 823.1,322.1 823.5,322.8 824.2,323.3 824.7,323.9 825.0,324.7 825.3,325.4 825.4,326.1 825.2,326.8 825.6,327.5 825.7,328.2 826.2,328.8 825.7,329.7 826.3,330.3 826.5,331.0 826.8,331.6 826.2,332.5 826.8,333.1 826.9,333.8 826.6,334.5 826.7,335.2 826.7,336.0 827.0,336.6 826.9,337.3 827.0,338.0 827.2,338.7 827.9,339.4 827.6,340.1 827.7,340.8 827.4,341.6 827.7,342.2 828.0,342.9 828.7,342.3 829.2,341.6 829.5,340.7 829.8,340.0 830.6,339.7 830.8,338.9 830.9,338.2 831.4,337.6 831.7,336.8 832.5,336.3 832.6,335.4 832.9,334.6 833.6,334.1 834.4,333.9 835.3,334.2 836.0,333.8 836.7,334.1 837.3,334.7 838.2,334.6 838.6,333.8 839.3,333.4 840.1,333.0 840.5,332.3 841.3,332.7 841.7,333.3 841.8,334.1 842.5,334.6 842.8,335.3 842.7,334.5 843.0,333.9 843.5,333.3 843.7,332.6 843.5,331.8 843.7,331.1 844.6,330.6 844.6,329.9 844.4,329.1 845.2,328.6 845.1,327.8 846.1,327.9 846.7,328.7 847.4,329.3 847.7,330.0 848.4,330.4 849.2,330.6 849.6,331.2 850.3,330.9 850.6,330.2 851.2,329.8 851.7,329.3 851.9,328.5 852.6,328.6 853.3,328.9 854.0,328.9 854.3,329.6 854.3,330.4 854.8,331.0 855.2,331.7 855.4,332.4 855.6,333.2 856.6,333.5 856.7,334.3 857.2,333.6 858.2,333.5 858.9,333.0 859.4,332.3 860.2,332.4 861.0,332.5 861.9,332.6 862.6,333.1 863.5,332.9 864.3,333.4 865.3,333.4 866.2,333.6 866.8,334.3 866.2,335.2 866.7,335.9 867.1,336.6 867.2,337.4 867.0,338.2 867.8,338.8 867.5,339.7 867.9,340.4 867.8,341.1 867.3,341.9 867.5,342.6 867.4,343.3 867.8,344.0 867.8,344.8 867.9,345.5 868.0,346.2 868.0,346.9 867.8,347.7 867.8,348.4 868.3,349.1 868.2,349.8 868.5,350.5 868.6,351.2 868.4,352.0 868.5,352.7 868.5,353.4 868.6,354.1 868.3,354.8 869.1,355.5 868.7,356.2 868.5,356.9 868.8,357.6 869.0,358.3 869.3,359.0 869.3,359.7 868.9,360.4 869.0,361.1 869.3,361.8 869.2,362.5 869.2,363.2 869.3,363.9 869.8,364.6 869.8,365.3 869.9,366.0 869.6,366.7 870.0,367.4 869.7,368.1 869.9,368.8 870.1,369.5 870.0,370.2 870.3,370.9 870.1,371.6 870.1,372.4 870.5,373.0 870.4,373.8 870.3,374.5 869.8,375.2 870.1,375.9 870.3,376.6 869.7,377.3 870.2,378.0 870.5,378.7 870.3,379.5 870.2,380.3 870.3,381.0 870.6,381.7 870.6,382.5 871.0,381.9 870.9,381.1 871.2,380.5 871.2,379.7 871.7,379.1 871.7,378.4 871.3,377.6 871.4,376.9 871.9,376.3 872.4,375.6 871.8,374.9 871.7,374.1 871.9,373.4 872.2,372.8 872.7,372.1 872.3,371.3 872.6,370.7 872.8,370.0 872.2,369.2 872.7,368.5 872.7,367.8 873.7,367.8 874.4,367.0 875.3,366.8 876.1,366.6 876.9,366.3 877.8,366.2 878.6,366.6 879.5,366.6 880.3,366.2 880.8,365.5 881.7,365.6 882.3,365.1 883.1,365.0 883.7,364.5 884.2,365.1 884.3,365.9 884.4,366.6 884.5,367.4 884.4,368.1 884.5,368.9 885.0,369.5 885.0,370.3 885.3,371.1 886.1,371.7 886.1,372.5 886.2,373.3 887.1,373.2 887.9,372.9 887.9,372.1 888.3,371.4 888.9,370.8 888.4,369.9 889.3,369.3 888.8,368.4 889.3,367.7 889.6,367.0 890.2,366.5 889.8,365.6 890.4,365.0 890.5,364.3 891.2,363.8 891.5,363.1 891.2,362.2 891.6,361.6 892.2,361.1 892.1,360.3 892.8,359.9 893.4,359.3 894.4,359.3 895.0,358.7 895.8,358.9 896.5,359.3 897.4,359.2 897.9,360.3 898.8,360.2 899.6,360.2 900.4,360.3 901.2,360.2 901.8,359.4 902.6,359.5 903.4,359.4 904.1,359.1 904.9,359.2 905.7,359.2 906.4,358.7 906.9,358.0 907.6,357.6 908.5,357.5 909.1,356.8 909.8,356.4 909.7,355.6 909.9,354.8 910.4,354.2 910.6,353.4 911.1,352.8 911.0,351.9 911.2,351.2 911.3,350.4 911.0,349.6 911.3,348.9 911.2,348.1 911.6,347.4 911.3,346.6 911.3,345.8 911.5,345.1 911.6,344.3 911.5,343.6 911.7,342.8 912.1,342.1 912.0,341.2 912.9,340.6 913.1,339.8 913.2,339.0 913.6,338.4 913.6,337.6 914.2,337.1 914.9,336.6 915.1,335.9 915.2,336.7 915.3,337.5 915.5,338.3 916.2,338.9 916.3,339.7 916.5,340.4 916.9,341.1 917.3,341.7 917.5,342.4 917.4,343.2" fill="none" stroke="#ae2b2b" stroke-width="3.0" stroke-linejoin="round" stroke-linecap="round"/>
<text x="540.90" y="408.70" font-size="16" text-anchor="middle">03:00</text>
<text x="634.70" y="408.70" font-size="16" text-anchor="middle">05:00</text>
<text x="728.50" y="408.70" font-size="16" text-anchor="middle">07:00</text>
<text x="822.30" y="408.70" font-size="16" text-anchor="middle">09:00</text>
<text x="729.70" y="428.70" font-size="16" text-anchor="middle" textLength="31.6" lengthAdjust="spacing">UTC</text>
<text x="728.50" y="452.60" font-size="16" text-anchor="middle">22 June 2018</text>
<rect x="1" y="590.8" width="964" height="1.5" fill="#000"/>
</svg>
<div class="fn" style="top:468px"><sup>1</sup><span style="display:inline-block;width:12.5px"></span>The vertical line indicates 21:04 on 10 March 2017 (news headline: ”US SEC rejects application to list Bitcoin ETF”).&nbsp;&nbsp;&nbsp;&nbsp;&nbsp;<sup>2</sup>&nbsp;&nbsp;The vertical line</div>
<div class="fn" style="top:488.7px;letter-spacing:-0.1px">indicates 07:17 on 22 June 2018 (news headline: “RPT – Japan FSA says ordered 6 cryptocurrency exchanges to improve business, over lax</div>
<div class="fn" style="top:509.4px;text-align-last:left;letter-spacing:0px">money laundering measures”).</div>
<div class="src" style="top:536.5px;letter-spacing:-0.45px">Source: <u>CoinDesk</u>.</div>
<div class="cp" style="top:568.5px">© Bank for International Settlements</div>
</body></html>
